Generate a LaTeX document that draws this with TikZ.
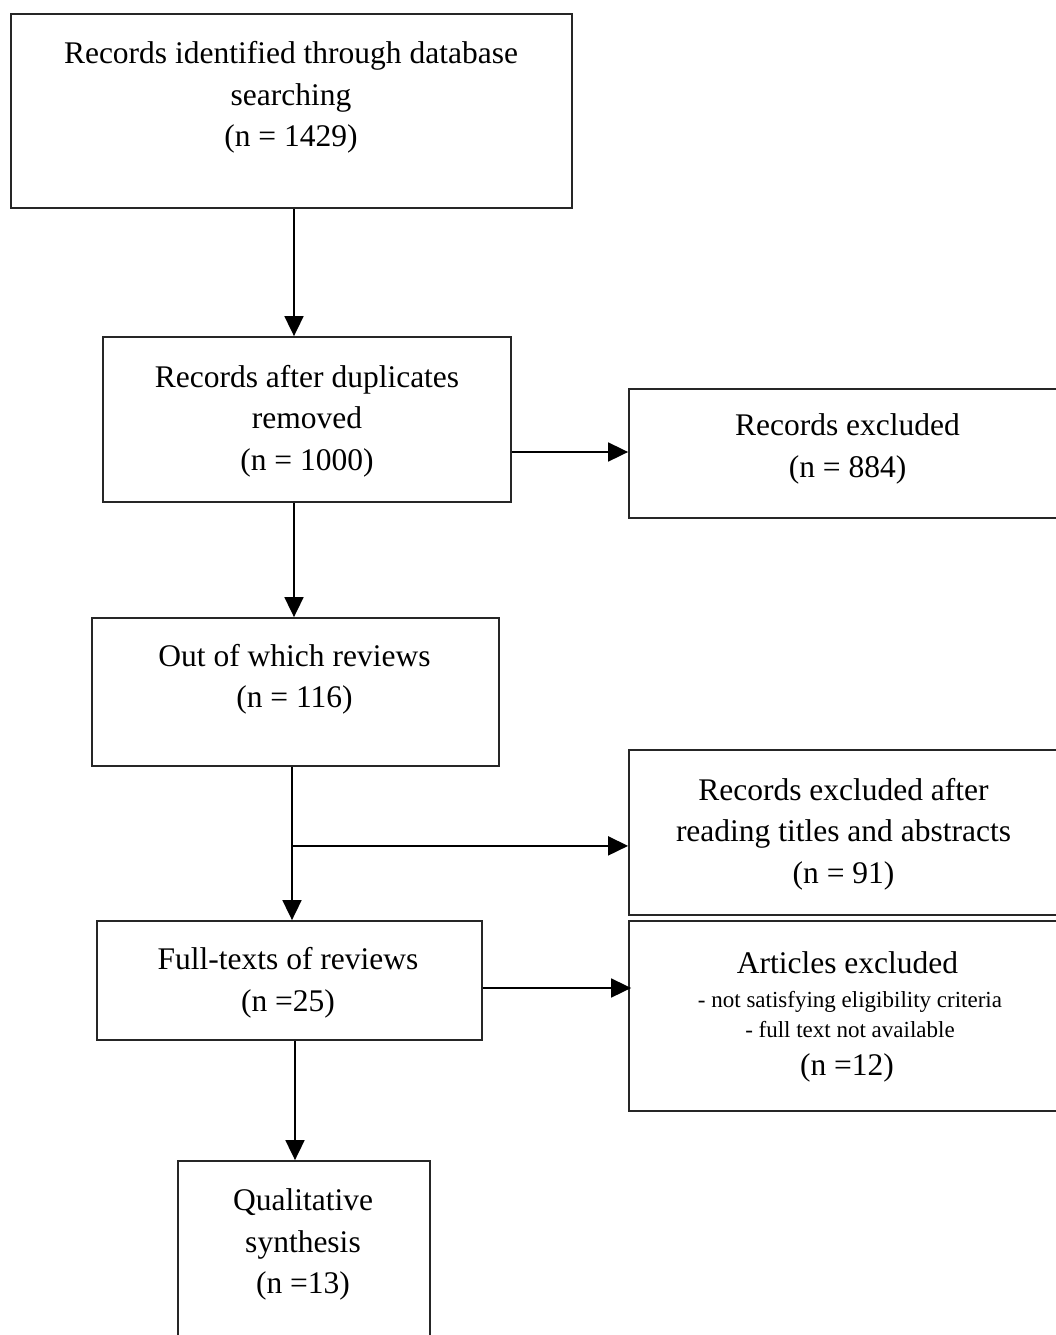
\documentclass[tikz,border=0pt]{standalone}
\usepackage{fontspec}
\setmainfont{Liberation Serif}
\usetikzlibrary{arrows.meta}
\begin{document}
\begin{tikzpicture}[x=1pt,y=-1pt,
 box/.style={draw=black!85, line width=1.8pt, rectangle, inner sep=0pt},
 txt/.style={align=center, font=\fontsize{31.5}{41.5}\selectfont, inner sep=0pt},
 small/.style={align=center, font=\fontsize{23}{30}\selectfont, inner sep=0pt},
 arr/.style={draw=black, line width=1.8pt, -{Triangle[length=20pt,width=19pt]}}]
\useasboundingbox (0,0) rectangle (1056,1335);
\fill[white] (0,0) rectangle (1056,1335);
\clip (0,0) rectangle (1056,1335);
% boxes
\node[box, minimum width=561pt, minimum height=194pt] (b1) at (291.5,111) {};
\node[box, minimum width=408pt, minimum height=165pt] (b2) at (307,419.5) {};
\node[box, minimum width=460pt, minimum height=129pt] (b3) at (859,453.5) {};
\node[box, minimum width=407pt, minimum height=148pt] (b4) at (295.5,692) {};
\node[box, minimum width=460pt, minimum height=165pt] (b5) at (859,832.5) {};
\node[box, minimum width=385pt, minimum height=119pt] (b6) at (289.5,980.5) {};
\node[box, minimum width=460pt, minimum height=190pt] (b7) at (859,1016) {};
\node[box, minimum width=252pt, minimum height=200pt] (b8) at (304,1261) {};
% texts
\node[txt] (t1) at (291,97.5) {Records identified through database\\searching\\(n = 1429)};
\node[txt] (t2) at (307,421) {Records after duplicates\\removed\\(n = 1000)};
\node[txt] (t3) at (847.5,449) {Records excluded\\(n = 884)};
\node[txt] (t4) at (294.5,679.5) {Out of which reviews\\(n = 116)};
\node[txt] (t5) at (843.5,834) {Records excluded after\\reading titles and abstracts\\(n = 91)};
\node[txt] (t6) at (288,983) {Full-texts of reviews\\(n =25)};
\node[txt] (t7a) at (847.5,962.5) {Articles excluded};
\node[small] (t7b) at (850,1014.5) {- not satisfying eligibility criteria\\- full text not available};
\node[txt] (t7c) at (847,1067.5) {(n =12)};
\node[txt] (t8) at (303,1244.5) {Qualitative\\synthesis\\(n =13)};
% connectors
\coordinate (c1) at ([xshift=2.5pt]b1.south);
\draw[arr] (c1) -- (c1 |- b2.north);
\coordinate (c2) at ([xshift=-13pt]b2.south);
\draw[arr] (c2) -- (c2 |- b4.north);
\coordinate (c3) at ([yshift=-32.5pt]b2.east);
\draw[arr] (c3) -- (c3 -| b3.west);
\coordinate (c4) at ([xshift=-3.5pt]b4.south);
\draw[arr] (c4) -- (c4 |- b6.north);
\coordinate (br) at ([yshift=-79pt]c4);
\draw[arr] (br) -- (br -| b5.west);
\coordinate (c6) at ([xshift=5.5pt]b6.south);
\draw[arr] (c6) -- (c6 |- b8.north);
\coordinate (c7) at ([yshift=-7.5pt]b6.east);
\draw[arr] (c7) -- ([xshift=3pt]c7 -| b7.west);
\end{tikzpicture}
\end{document}
